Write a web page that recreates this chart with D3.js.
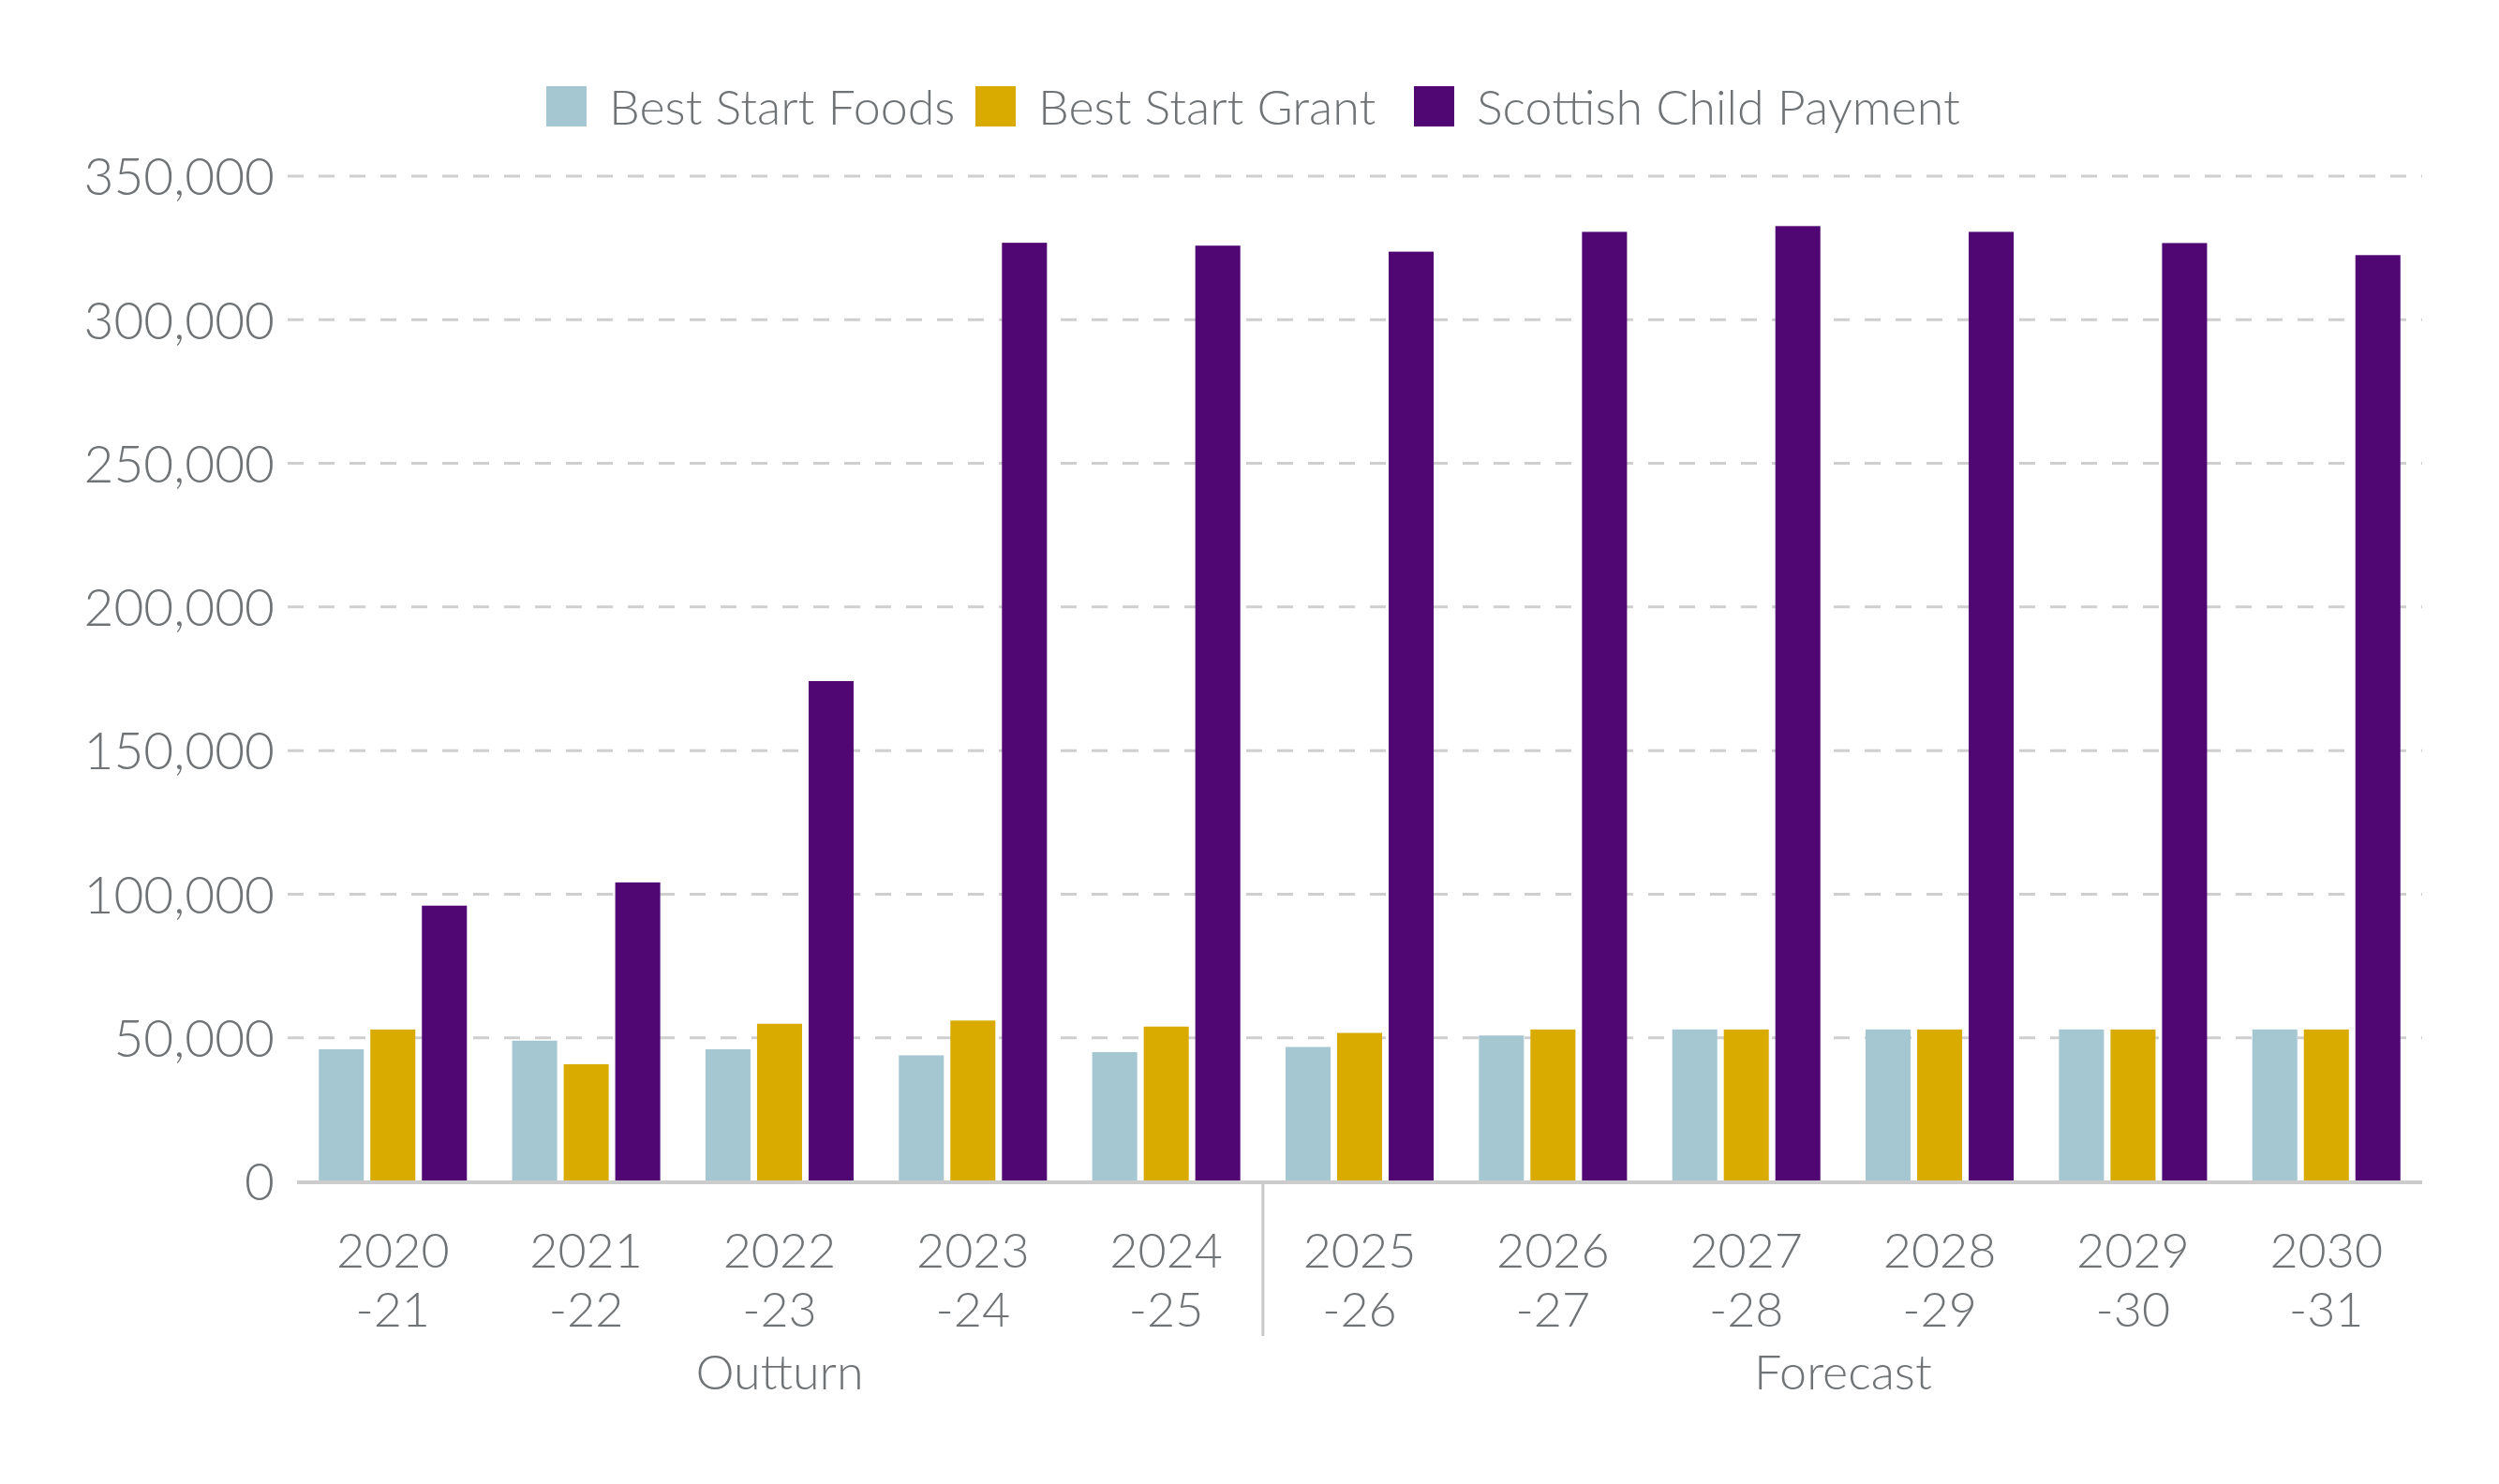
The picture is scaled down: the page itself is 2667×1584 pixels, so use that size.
<!DOCTYPE html>
<html>
<head>
<meta charset="utf-8">
<script src="https://cdn.jsdelivr.net/npm/d3@7"></script>
<style>
  html, body { margin: 0; padding: 0; background: #ffffff; }
  svg text { font-family: "Lato", "Open Sans", sans-serif; font-weight: 300; fill: #6f7375; }
</style>
</head>
<body>
<div class="chart"></div>
<script>
// data
const years = ["2020-21", "2021-22", "2022-23", "2023-24", "2024-25", "2025-26",
               "2026-27", "2027-28", "2028-29", "2029-30", "2030-31"];
const seriesNames = ["Best Start Foods", "Best Start Grant", "Scottish Child Payment"];
const bestStartFoods = [46000, 49000, 46000, 43900, 45000, 46800, 50800, 52900, 52900, 52900, 52900];
const bestStartGrant = [52900, 40800, 54900, 56000, 53900, 51700, 52900, 52900, 52900, 52900, 52900];
const childPayment = [96000, 104100, 174200, 326800, 325800, 323700, 330600, 332600, 330600, 326700, 322500];
const yTicks = [0, 50000, 100000, 150000, 200000, 250000, 300000, 350000];
const periods = [
  { label: "Outturn", from: "2020-21", to: "2024-25" },
  { label: "Forecast", from: "2025-26", to: "2030-31" }
];
const colours = ["#a5c7d2", "#d9aa00", "#500773"];

const width = 2667;
const height = 1584;
const margin = { top: 188, right: 82, bottom: 323, left: 317 };
const plotW = width - margin.left - margin.right;
const plotH = height - margin.top - margin.bottom;

const svg = d3.select(".chart")
  .append("svg")
  .attr("width", width)
  .attr("height", height);

const plot = svg.append("g")
  .attr("transform", `translate(${margin.left}, ${margin.top})`);

// scales
const x0 = d3.scaleBand()
  .domain(years)
  .range([0, plotW])
  .paddingInner(0.234)
  .paddingOuter(0.1125);

const x1 = d3.scaleBand()
  .domain(seriesNames)
  .range([0, x0.bandwidth()])
  .paddingInner(0.127)
  .paddingOuter(0);

const y = d3.scaleLinear()
  .domain([0, 350000])
  .range([plotH, 0]);

// gridlines
plot.append("g")
  .selectAll("line")
  .data(yTicks.filter(d => d > 0))
  .enter()
  .append("line")
  .attr("x1", -10)
  .attr("x2", plotW)
  .attr("y1", d => y(d))
  .attr("y2", d => y(d))
  .attr("stroke", "#cfcfcf")
  .attr("stroke-width", 3)
  .attr("stroke-dasharray", "17 16");

// y axis labels
const yAxis = d3.axisLeft(y)
  .tickValues(yTicks)
  .tickFormat(d3.format(","))
  .tickSize(0)
  .tickPadding(24);

const yG = plot.append("g").call(yAxis);
yG.select(".domain").remove();
yG.selectAll("text")
  .style("font-size", "55px")
  .attr("dy", "0.36em");

// bars
const rows = years.map((yr, i) => ({
  year: yr,
  values: [bestStartFoods[i], bestStartGrant[i], childPayment[i]]
}));

const groups = plot.append("g")
  .selectAll("g")
  .data(rows)
  .enter()
  .append("g")
  .attr("transform", d => `translate(${x0(d.year)}, 0)`);

groups.selectAll("rect")
  .data(d => d.values.map((v, j) => ({ name: seriesNames[j], value: v, idx: j })))
  .enter()
  .append("rect")
  .attr("x", d => x1(d.name))
  .attr("y", d => y(d.value))
  .attr("width", x1.bandwidth())
  .attr("height", d => plotH - y(d.value))
  .attr("fill", d => colours[d.idx]);

// baseline
plot.append("line")
  .attr("x1", 0)
  .attr("x2", plotW)
  .attr("y1", plotH + 1)
  .attr("y2", plotH + 1)
  .attr("stroke", "#cccccc")
  .attr("stroke-width", 4);

// x axis category labels, two lines each
const xCentre = d => x0(d) + x0.bandwidth() / 2;

plot.append("g")
  .selectAll("text")
  .data(years)
  .enter()
  .append("text")
  .attr("x", xCentre)
  .attr("y", plotH + 92)
  .attr("text-anchor", "middle")
  .style("font-size", "52px")
  .text(d => d.split("-")[0]);

plot.append("g")
  .selectAll("text")
  .data(years)
  .enter()
  .append("text")
  .attr("x", xCentre)
  .attr("y", plotH + 155)
  .attr("text-anchor", "middle")
  .style("font-size", "52px")
  .text(d => "-" + d.split("-")[1]);

// divider between outturn and forecast
const step = x0.step();
const gap = step - x0.bandwidth();
const splitX = x0("2025-26") - gap / 2;
plot.append("line")
  .attr("x1", splitX)
  .attr("x2", splitX)
  .attr("y1", plotH + 2)
  .attr("y2", plotH + 165)
  .attr("stroke", "#c8c8c8")
  .attr("stroke-width", 3);

// period labels
plot.append("g")
  .selectAll("text")
  .data(periods)
  .enter()
  .append("text")
  .attr("x", d => (x0(d.from) - gap / 2 + x0(d.to) + x0.bandwidth() + gap / 2) / 2)
  .attr("y", plotH + 222)
  .attr("text-anchor", "middle")
  .style("font-size", "52px")
  .text(d => d.label);

// legend
const legendX = [583, 1041, 1509];
const legend = svg.append("g")
  .selectAll("g")
  .data(seriesNames)
  .enter()
  .append("g")
  .attr("transform", (d, i) => `translate(${legendX[i]}, 92)`);

legend.append("rect")
  .attr("width", 43)
  .attr("height", 43)
  .attr("fill", (d, i) => colours[i]);

legend.append("text")
  .attr("x", 67)
  .attr("y", 22)
  .attr("dy", "0.36em")
  .style("font-size", "52px")
  .text(d => d);
</script>
</body>
</html>
